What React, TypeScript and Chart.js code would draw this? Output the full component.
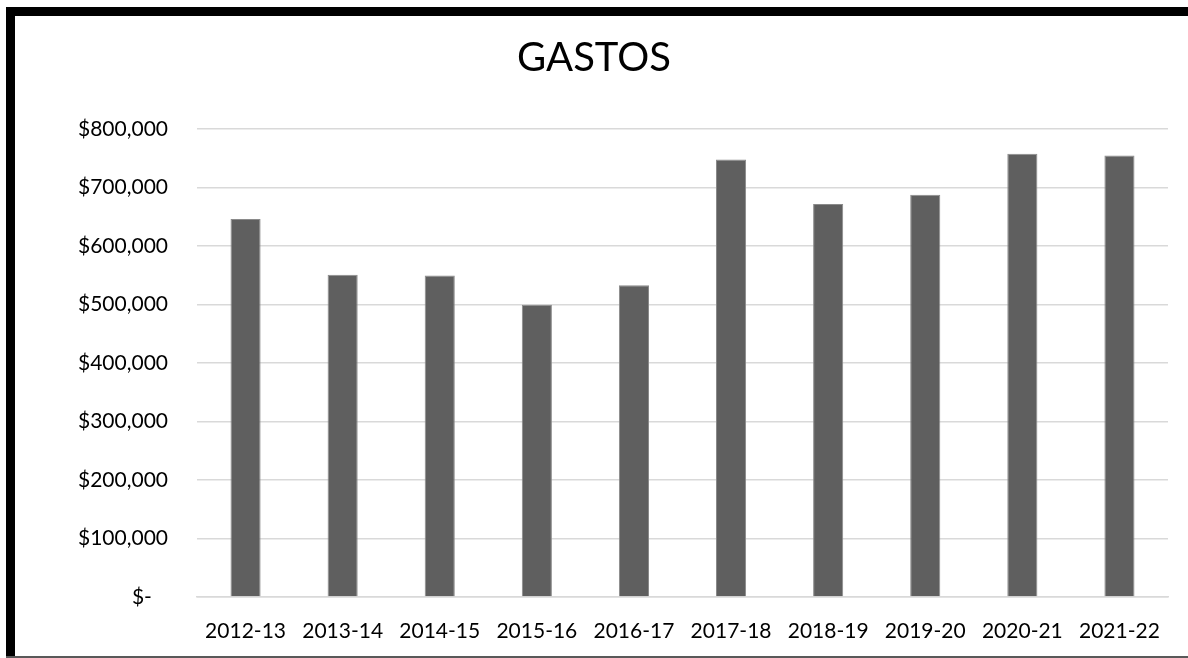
import React, { useEffect, useRef } from "react";
import { Chart, registerables } from "chart.js";

Chart.register(...registerables);

const categories = ["2012-13", "2013-14", "2014-15", "2015-16", "2016-17", "2017-18", "2018-19", "2019-20", "2020-21", "2021-22"];
const gastos = [646000, 551000, 549500, 499500, 533000, 748000, 672000, 687500, 757500, 754500];
const yTickValues = [0, 100000, 200000, 300000, 400000, 500000, 600000, 700000, 800000];
const chartTitle = "GASTOS";

const FONT = "Lato, 'Open Sans', sans-serif";

function formatMoney(v: number): string {
  if (v === 0) return "$-\u00a0\u00a0\u00a0";
  return "$" + v.toLocaleString("en-US");
}

export default function App() {
  const ref = useRef<HTMLCanvasElement | null>(null);

  useEffect(() => {
    if (!ref.current) return;
    const chart = new Chart(ref.current, {
      type: "bar",
      data: {
        labels: categories,
        datasets: [
          {
            label: chartTitle,
            data: gastos,
            backgroundColor: "#5f5f5f",
            borderColor: "#8a8a8a",
            borderWidth: 1,
            barPercentage: 0.31,
            categoryPercentage: 1,
          },
        ],
      },
      options: {
        responsive: false,
        animation: false,
        devicePixelRatio: 1,
        layout: { padding: { left: 20, right: 20, top: 0, bottom: 0 } },
        plugins: {
          legend: { display: false },
          tooltip: { enabled: false },
          title: {
            display: true,
            text: chartTitle,
            color: "#000",
            font: { family: FONT, size: 40, weight: "normal", lineHeight: 1.2 },
            padding: { top: 34, bottom: 47 },
          },
        },
        scales: {
          x: {
            grid: { display: false, drawTicks: false },
            border: { display: true, color: "#d9d9d9", width: 1.5 },
            ticks: {
              color: "#000",
              font: { family: FONT, size: 21 },
              padding: 22,
              maxRotation: 0,
              autoSkip: false,
            },
            afterFit: (s: any) => {
              s.height = 61;
            },
          },
          y: {
            min: 0,
            max: 800000,
            afterBuildTicks: (s: any) => {
              s.ticks = yTickValues.map((v) => ({ value: v }));
            },
            grid: { color: "#d9d9d9", lineWidth: 1.5, drawTicks: false },
            border: { display: false },
            ticks: {
              color: "#000",
              font: { family: FONT, size: 21 },
              padding: 29,
              callback: (v: any) => formatMoney(Number(v)),
            },
            afterFit: (s: any) => {
              s.width = 177;
            },
          },
        },
      },
    });
    return () => chart.destroy();
  }, []);

  return (
    <div style={{ position: "fixed", left: 0, top: 0, width: 1188, height: 658, background: "#fff", overflow: "hidden" }}>
      <canvas ref={ref} width={1188} height={658} style={{ position: "absolute", left: 0, top: 0, width: 1188, height: 658 }} />
      <div style={{ position: "absolute", left: 6, top: 7, width: 9, height: 651, background: "#000" }} />
      <div style={{ position: "absolute", left: 6, top: 7, width: 1182, height: 9, background: "#000" }} />
      <div style={{ position: "absolute", left: 6, top: 656, width: 1182, height: 2, background: "#595959" }} />
    </div>
  );
}
